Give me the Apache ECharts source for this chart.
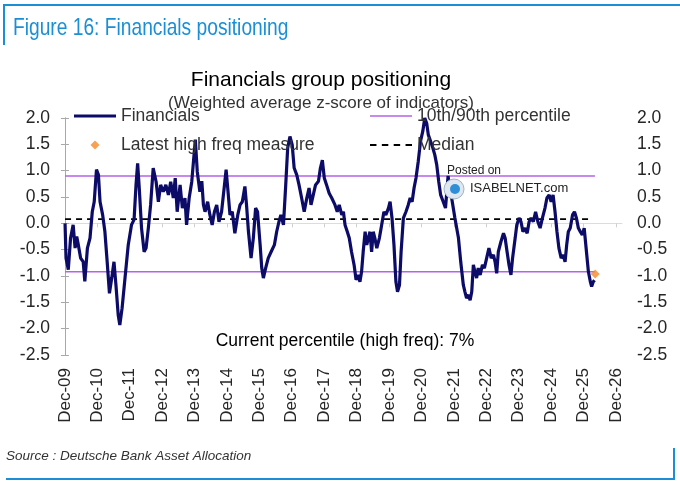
<!DOCTYPE html>
<html>
<head>
<meta charset="utf-8">
<script src="https://cdn.jsdelivr.net/npm/echarts@6/dist/echarts.min.js"></script>
<style>
html,body{margin:0;padding:0;background:#fff;}
#c{width:680px;height:486px;}
</style>
</head>
<body>
<div id="c"></div>
<script>
// ---- data (decimal years, z-score values) ----
const dates = [
2009.92,2009.95,2010.02,2010.09,2010.17,2010.23,2010.28,2010.33,2010.40,2010.48,2010.53,2010.61,2010.69,2010.76,2010.82,2010.89,2010.95,
2011.00,2011.08,2011.15,2011.22,2011.29,2011.36,2011.43,2011.49,2011.56,2011.61,2011.68,2011.77,2011.87,2011.97,
2012.05,2012.11,2012.16,2012.21,2012.28,2012.36,2012.42,2012.49,2012.56,2012.64,2012.73,2012.80,2012.87,2012.95,
2013.03,2013.11,2013.18,2013.26,2013.32,2013.38,2013.47,2013.54,2013.62,2013.67,2013.75,2013.83,2013.90,2013.94,
2014.00,2014.08,2014.14,2014.19,2014.24,2014.32,2014.39,2014.46,2014.53,2014.60,2014.67,2014.75,2014.84,2014.89,2014.94,
2015.01,2015.08,2015.16,2015.25,2015.32,2015.39,2015.47,2015.52,2015.58,2015.66,2015.73,2015.80,2015.86,2015.94,2015.99,
2016.04,2016.11,2016.19,2016.28,2016.38,2016.45,2016.52,2016.58,2016.66,2016.73,2016.79,2016.86,2016.93,2016.99,
2017.07,2017.14,2017.22,2017.30,2017.38,2017.45,2017.51,2017.58,2017.65,2017.74,2017.80,2017.86,2017.92,2017.99,
2018.07,2018.15,2018.25,2018.32,2018.38,2018.46,2018.51,2018.56,2018.63,2018.69,2018.76,2018.84,2018.90,2018.97,
2019.02,2019.07,2019.12,2019.18,2019.23,2019.28,2019.33,2019.38,2019.43,2019.48,2019.54,2019.62,2019.69,2019.76,2019.82,2019.90,2019.95,
2020.01,2020.07,2020.13,2020.18,2020.24,2020.29,2020.36,2020.44,2020.51,2020.57,2020.63,2020.69,2020.75,2020.82,2020.89,2020.96,
2021.02,2021.08,2021.13,2021.20,2021.27,2021.33,2021.39,2021.45,2021.51,2021.59,2021.66,2021.74,2021.80,2021.85,2021.95,
2022.06,2022.13,2022.21,2022.26,2022.31,2022.37,2022.42,2022.47,2022.52,2022.57,2022.62,2022.67,2022.73,2022.80,2022.86,2022.93,
2023.00,2023.07,2023.14,2023.19,2023.24,2023.29,2023.37,2023.45,2023.50,2023.56,2023.62,2023.68,2023.73,2023.81,2023.86,2023.93,2023.99,
2024.05,2024.12,2024.18,2024.24,2024.30,2024.37,2024.44,2024.51,2024.58,2024.65,2024.73,2024.79,2024.86,2024.92,2024.98,
2025.04,2025.10,2025.16,2025.23,2025.29,2025.35,2025.40,2025.45,2025.51,2025.58,2025.64,2025.70,2025.76,2025.82,2025.88,2025.94,
2026.01,2026.07,2026.13,2026.17,2026.22,2026.26
];
const financials = [
0.00,-0.66,-0.88,-0.28,-0.03,-0.47,-0.25,-0.41,-0.66,-0.73,-1.10,-0.47,-0.28,0.22,0.41,1.02,0.92,
0.41,0.16,-0.16,-0.73,-1.33,-1.04,-0.73,-1.17,-1.74,-1.93,-1.61,-1.04,-0.41,-0.03,
0.07,0.73,1.14,0.67,-0.09,-0.54,-0.47,-0.09,0.35,1.05,0.79,0.41,0.73,0.60,
0.73,0.54,0.79,0.48,0.86,0.22,0.73,0.29,0.48,-0.03,0.48,0.79,1.30,1.59,
0.98,0.60,0.80,0.35,0.22,0.41,0.16,-0.03,0.22,0.35,0.03,0.22,0.73,1.02,0.67,
0.16,0.22,-0.19,0.16,0.35,0.41,0.70,0.35,-0.16,-0.66,-0.28,0.29,0.22,-0.41,-0.85,
-1.04,-0.85,-0.66,-0.54,-0.41,-0.16,0.03,0.16,-0.03,0.73,1.43,1.65,1.49,1.05,
0.92,0.73,0.48,0.22,0.48,0.67,0.35,0.54,0.73,0.80,1.05,1.20,0.86,0.73,
0.57,0.48,0.35,0.22,0.35,0.16,0.22,-0.03,-0.16,-0.28,-0.54,-0.79,-1.07,-0.98,
-1.11,-0.92,-0.54,-0.16,-0.41,-0.28,-0.16,-0.54,-0.16,-0.28,-0.47,-0.28,-0.03,0.22,0.16,0.29,0.41,
0.10,-0.41,-1.11,-1.30,-1.17,-0.54,0.10,0.22,0.35,0.48,0.41,0.67,0.86,1.18,1.56,1.75,
2.00,1.90,1.68,1.56,1.43,1.30,1.11,0.80,0.54,0.41,0.29,0.90,0.60,0.48,0.10,
-0.28,-0.73,-1.17,-1.30,-1.42,-1.36,-1.46,-1.30,-0.79,-0.92,-1.04,-0.85,-0.98,-0.79,-0.85,-0.66,
-0.47,-0.66,-0.60,-0.73,-0.95,-0.54,-0.35,-0.19,-0.28,-0.54,-0.79,-0.98,-0.66,-0.28,-0.03,0.10,0.03,
-0.16,-0.09,-0.19,0.03,0.10,0.03,0.22,0.03,-0.09,0.10,0.29,0.48,0.54,0.41,0.54,
0.22,-0.16,-0.47,-0.66,-0.60,-0.73,-0.41,-0.16,-0.09,0.16,0.22,0.10,-0.09,-0.16,-0.22,-0.09,
-0.54,-0.92,-1.11,-1.20,-1.11,-1.08
];
const pct90 = 0.90;
const pct10 = -0.92;
const medianValue = 0.08;
const refStart = 2009.92;
const refEnd = 2026.27;
const medianEnd = 2026.1;
const latestDate = 2026.28;
const latestValue = -0.96;
const yTicks = { min: -2.5, max: 2.0, step: 0.5 };
const yearLabels = ['Dec-09','Dec-10','Dec-11','Dec-12','Dec-13','Dec-14','Dec-15','Dec-16','Dec-17',
                    'Dec-18','Dec-19','Dec-20','Dec-21','Dec-22','Dec-23','Dec-24','Dec-25','Dec-26'];
const xExtent = { min: -0.06, max: 17.19 };   // years since Dec-09 shown by the plot

const X0 = 2009 + 11/12; // Dec-09
const toX = t => t - X0;
const yearPositions = yearLabels.map((_, i) => i);
const lineData = dates.map((d, i) => [toX(d), financials[i]]);

const chart = echarts.init(document.getElementById('c'), null, {renderer: 'canvas'});
const FONT = "'Liberation Sans', Arial, sans-serif";
const axisGray = '#a8a8a8';
const txt = '#262626';
const blue = '#1a8fd6';
const navy = '#0c0c68';
const purple = '#b462e6';

const yAxisBase = {
  type: 'value', min: yTicks.min, max: yTicks.max, interval: yTicks.step,
  axisLine: {show: true, lineStyle: {color: axisGray, width: 1}},
  axisTick: {show: true, length: 4, lineStyle: {color: axisGray}},
  splitLine: {show: false},
  axisLabel: {formatter: v => v.toFixed(1), fontSize: 17.5, color: txt, fontFamily: FONT, margin: 13}
};

const legendBase = {
  orient: 'vertical', top: 107, padding: 0, itemWidth: 42, itemHeight: 9, itemGap: 11,
  symbolKeepAspect: true,
  textStyle: {fontSize: 17.5, color: '#333', fontFamily: FONT, lineHeight: 18}
};

chart.setOption({
  animation: false,
  backgroundColor: '#fff',
  grid: {left: 63, right: 58, top: 118, bottom: 131, containLabel: false},
  xAxis: [
    {
      type: 'value', min: xExtent.min, max: xExtent.max, position: 'bottom',
      axisLine: {show: false, onZero: false}, axisTick: {show: false}, splitLine: {show: false},
      axisLabel: {
        rotate: 90, fontSize: 17, color: txt, fontFamily: FONT, margin: 13,
        customValues: yearPositions,
        formatter: v => yearLabels[Math.round(v)]
      }
    },
    {
      type: 'value', min: xExtent.min, max: xExtent.max, position: 'bottom',
      axisLine: {show: true, onZero: true, onZeroAxisIndex: 0, lineStyle: {color: '#dcdcdc', width: 1}},
      axisTick: {show: true, length: 4, customValues: yearPositions, lineStyle: {color: '#d0d0d0'}},
      axisLabel: {show: false}, splitLine: {show: false}
    }
  ],
  yAxis: [
    Object.assign({}, yAxisBase, {position: 'left'}),
    Object.assign({}, yAxisBase, {position: 'right', axisLabel: Object.assign({}, yAxisBase.axisLabel, {margin: 15})})
  ],
  legend: [
    Object.assign({}, legendBase, {
      left: 74,
      data: [
        {name: 'Financials', icon: 'path://M0,0h42v3h-42z', symbolKeepAspect: true},
        {name: 'Latest high freq measure', icon: 'path://M5,0L10,5L5,10L0,5Z', symbolKeepAspect: true}
      ]
    }),
    Object.assign({}, legendBase, {
      left: 370,
      data: [
        {name: '10th/90th percentile', icon: 'path://M0,0h42v1.6h-42z', symbolKeepAspect: true},
        {name: 'Median', icon: 'path://M0,0h6v2h-6zM11,0h6v2h-6zM22,0h6v2h-6zM33,0h6v2h-6z', symbolKeepAspect: true}
      ]
    })
  ],
  series: [
    {
      name: '10th/90th percentile', type: 'line', symbol: 'none', z: 2,
      lineStyle: {color: purple, width: 1.6}, itemStyle: {color: purple},
      data: [[toX(refStart), pct90], [toX(refEnd), pct90]]
    },
    {
      name: '10th/90th percentile', type: 'line', symbol: 'none', z: 2,
      lineStyle: {color: purple, width: 1.6}, itemStyle: {color: purple},
      data: [[toX(refStart), pct10], [toX(refEnd), pct10]]
    },
    {
      name: 'Median', type: 'line', symbol: 'none', z: 2,
      lineStyle: {color: '#000', width: 1.6, type: [6, 5]}, itemStyle: {color: '#000'},
      data: [[toX(refStart), medianValue], [toX(medianEnd), medianValue]]
    },
    {
      name: 'Financials', type: 'line', symbol: 'none', z: 3,
      lineStyle: {color: navy, width: 3.2}, itemStyle: {color: navy},
      data: lineData
    },
    {
      name: 'Latest high freq measure', type: 'scatter', symbol: 'diamond', symbolSize: 9, z: 4,
      itemStyle: {color: '#f58a2c'},
      data: [[toX(latestDate), latestValue]]
    }
  ],
  graphic: [
    {type: 'line', shape: {x1: 4, y1: 5, x2: 680, y2: 5}, style: {stroke: blue, lineWidth: 2}},
    {type: 'line', shape: {x1: 4, y1: 4, x2: 4, y2: 45}, style: {stroke: blue, lineWidth: 2}},
    {type: 'line', shape: {x1: 6, y1: 479, x2: 675, y2: 479}, style: {stroke: blue, lineWidth: 2}},
    {type: 'line', shape: {x1: 674, y1: 448, x2: 674, y2: 480}, style: {stroke: blue, lineWidth: 2}},
    {type: 'text', x: 13, y: 28.5, scaleX: 0.8, style: {text: 'Figure 16: Financials positioning', fill: blue, verticalAlign: 'middle',
      font: "24px 'Liberation Sans', Arial, sans-serif"}},
    {type: 'text', x: 321, y: 80, style: {text: 'Financials group positioning', fill: '#000', align: 'center', verticalAlign: 'middle',
      font: "21px 'Liberation Sans', Arial, sans-serif"}},
    {type: 'text', x: 321, y: 103.5, style: {text: '(Weighted average z-score of indicators)', fill: '#333', align: 'center', verticalAlign: 'middle',
      font: "17px 'Liberation Sans', Arial, sans-serif"}},
    {type: 'text', x: 345, y: 341.5, style: {text: 'Current percentile (high freq): 7%', fill: '#000', align: 'center', verticalAlign: 'middle',
      font: "17.5px 'Liberation Sans', Arial, sans-serif"}},
    {type: 'text', x: 6, y: 456.5, style: {text: 'Source : Deutsche Bank Asset Allocation', fill: '#333', verticalAlign: 'middle',
      font: "italic 13.5px 'Liberation Sans', Arial, sans-serif"}},
    {type: 'text', x: 447, y: 171, z: 10, style: {text: 'Posted on', fill: '#222', verticalAlign: 'middle',
      font: "12px 'Liberation Sans', Arial, sans-serif"}},
    {type: 'text', x: 470, y: 188, z: 10, style: {text: 'ISABELNET.com', fill: '#222', verticalAlign: 'middle',
      font: "13px 'Liberation Sans', Arial, sans-serif"}},
    {type: 'circle', z: 10, shape: {cx: 454, cy: 189, r: 10}, style: {fill: '#dfe8f0', stroke: '#9fb3c4', lineWidth: 1}},
    {type: 'circle', z: 10, shape: {cx: 455, cy: 189, r: 5}, style: {fill: '#2e8fd8'}}
  ]
});
</script>
</body>
</html>
